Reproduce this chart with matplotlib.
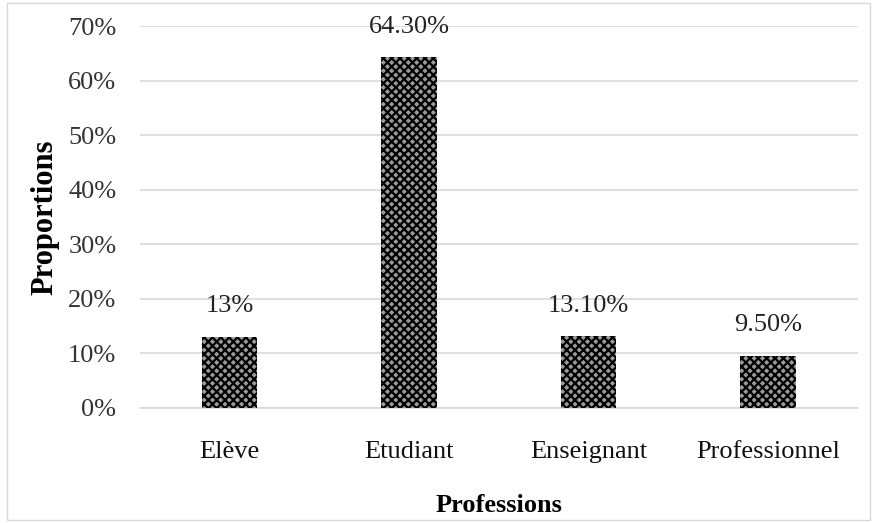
import matplotlib.pyplot as plt
from matplotlib.patches import Rectangle

plt.rcParams['font.family'] = ['Liberation Serif', 'DejaVu Serif']
plt.rcParams['hatch.linewidth'] = 1.6

professions = ['Elève', 'Etudiant', 'Enseignant', 'Professionnel']
proportions = [13.0, 64.3, 13.1, 9.5]
value_labels = ['13%', '64.30%', '13.10%', '9.50%']

fig = plt.figure(figsize=(8.75, 5.23), dpi=100)
ax = fig.add_axes([0.16, 0.22, 0.82, 0.73])

# light frame around the whole chart area
fig.patches.append(Rectangle((0.008, 0.006), 0.986, 0.988, transform=fig.transFigure,
                             fill=False, edgecolor='#d9d9d9', linewidth=1))

x = range(len(professions))
bars = ax.bar(x, proportions, width=0.31, color='#9a9a9a', edgecolor='black',
              hatch='xxxx', linewidth=0, zorder=3)

for b, lab in zip(bars, value_labels):
    ax.text(b.get_x() + b.get_width() / 2, b.get_height() + 3.6, lab,
            ha='center', va='bottom', fontsize=19, color='#222222')

ax.set_ylim(0, 70)
ax.set_xlim(-0.5, 3.5)
ax.set_yticks(range(0, 71, 10))
ax.set_yticklabels([f'{v}%' for v in range(0, 71, 10)], fontsize=19, color='#333333')
ax.set_xticks(list(x))
ax.set_xticklabels(professions, fontsize=19, color='#111111')
ax.tick_params(axis='y', length=0, pad=17)
ax.tick_params(axis='x', length=0, pad=24)

ax.grid(axis='y', color='#d9d9d9', linewidth=1.2, zorder=0)
for s in ['top', 'right', 'left']:
    ax.spines[s].set_visible(False)
ax.spines['bottom'].set_color('#d9d9d9')
ax.spines['bottom'].set_linewidth(1.2)

ax.set_ylabel('Proportions', fontsize=22, fontweight='bold', labelpad=6)
ax.set_xlabel('Professions', fontsize=19, fontweight='bold', labelpad=22)

fig.savefig('out.png', dpi=100)
